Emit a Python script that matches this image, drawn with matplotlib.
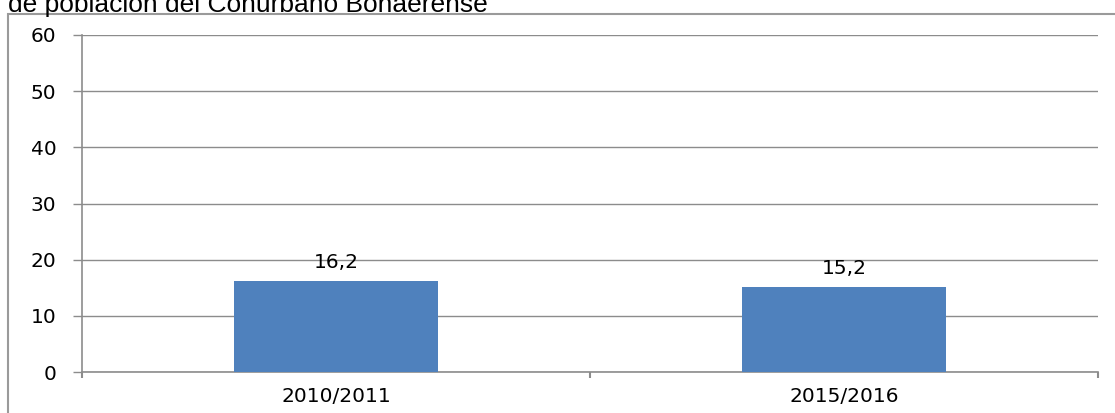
import matplotlib.pyplot as plt
from matplotlib.patches import Rectangle

plt.rcParams['font.family'] = ['DejaVu Sans']

# data
categories = ['2010/2011', '2015/2016']
values = [16.2, 15.2]
value_labels = ['16,2', '15,2']
y_ticks = [0, 10, 20, 30, 40, 50, 60]
title = 'de población del Conurbano Bonaerense'

W, H = 1115, 413
fig = plt.figure(figsize=(W / 100, H / 100), dpi=100)

# outer chart frame (only top and left edges visible)
fig.patches.append(Rectangle((8 / W, -0.1), 1.2, (H - 14) / H + 0.1,
                             transform=fig.transFigure, fill=False,
                             edgecolor='#9a9a9a', linewidth=1.5))
fig.text(8 / W, (H - 12) / H, title, fontsize=19, family='Liberation Sans',
         va='baseline', ha='left')

ax = fig.add_axes([82 / W, (H - 372) / H, (1098 - 82) / W, (372 - 35) / H])
x = [i + 0.5 for i in range(len(categories))]
ax.bar(x, values, width=0.4, color='#4f81bd', zorder=3)
for xi, v, lab in zip(x, values, value_labels):
    ax.text(xi, v + 2.3, lab, ha='center', va='baseline', fontsize=14.5)

ax.set_xlim(0, len(categories))
ax.set_ylim(0, 60)
ax.set_yticks(y_ticks)
ax.tick_params(axis='y', length=6.5, width=1, color='#8c8c8c', labelsize=14.5, pad=12)
ax.set_xticks(range(len(categories) + 1))
ax.set_xticklabels([])
ax.tick_params(axis='x', which='major', length=4, width=1.5, color='#8c8c8c')
ax.set_xticks(x, minor=True)
ax.set_xticklabels(categories, minor=True)
ax.tick_params(axis='x', which='minor', length=0, labelsize=14.5, pad=11)

ax.grid(axis='y', color='#8c8c8c', linewidth=1, zorder=0)
for s in ['top', 'right']:
    ax.spines[s].set_visible(False)
for s in ['left', 'bottom']:
    ax.spines[s].set_color('#8c8c8c')
    ax.spines[s].set_linewidth(1.2)

fig.savefig('out.png', dpi=100)
